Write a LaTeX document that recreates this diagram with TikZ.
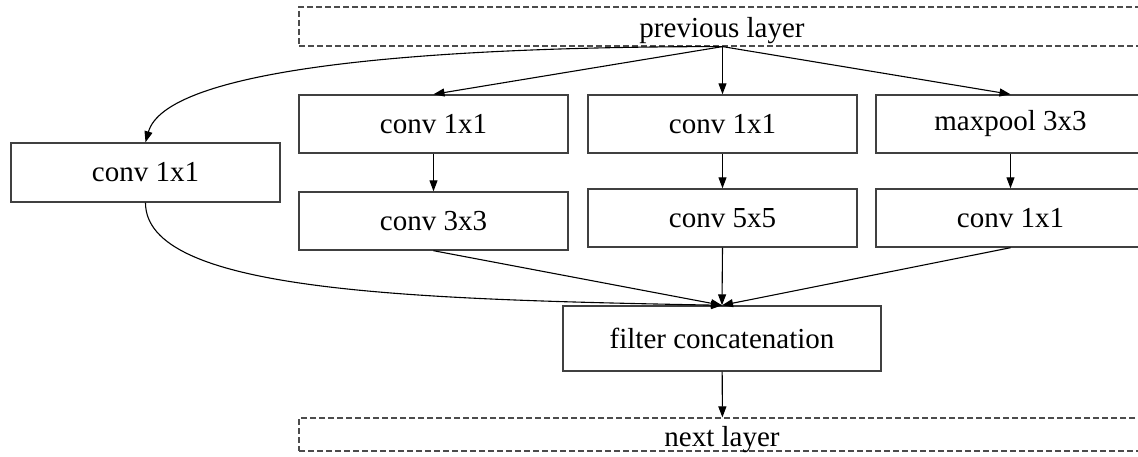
\documentclass[tikz,border=0pt]{standalone}
\usepackage{fontspec}
\setmainfont{Liberation Serif}
\usepackage{tikz}
\usetikzlibrary{arrows.meta}

\begin{document}
\begin{tikzpicture}[x=1pt, y=-1pt,
        font=\fontsize{29}{33}\selectfont,
        box/.style={draw=black!75, line width=1.4pt, inner sep=0pt,
                    minimum width=269pt, minimum height=58pt},
        layerbox/.style={draw=black!70, line width=1.2pt, inner sep=0pt,
                    dash pattern=on 6pt off 3pt},
        edge/.style={-{Triangle[length=11pt,width=8pt]}, line width=1.1pt}]
        \useasboundingbox (0,0) rectangle (1138,457);
        \clip (0,0) rectangle (1138,457);

        % Parameters
        \def\rowOne{124}        % centre of the first row
        \def\rowTwo{218}        % centre of the second row

        % input and output layers
        \node[layerbox, minimum width=847pt, minimum height=39pt] (prev) at (722.5,26.5) {};
        \node[anchor=base] (prevtext) at (722,38) {previous layer};
        \node[layerbox, minimum width=847pt, minimum height=33pt] (next) at (722.5,434.5) {};
        \node[anchor=base] (nexttext) at (722,446) {next layer};

        % branches
        \node[box, minimum height=59pt] (convA) at (145.5,172.5) {conv 1x1};

        \node[box] (convB) at (433.5,\rowOne) {conv 1x1};
        \node[box] (convC) at (722.5,\rowOne) {conv 1x1};
        \node[box] (pool)  at (1010.5,\rowOne) {maxpool 3x3};

        \node[box] (convBB) at (433.5,221) {conv 3x3};
        \node[box] (convCC) at (722.5,\rowTwo) {conv 5x5};
        \node[box] (poolC)  at (1010.5,\rowTwo) {conv 1x1};

        % concatenation
        \node[box, minimum width=318pt, minimum height=65pt] (concat) at (722,338.5) {filter concatenation};

        % Edges
        \draw[edge] (prev.south) .. controls +(-322,0) and +(20,-71) .. (convA.north);
        \draw[edge] (prev.south) -- (convB.north);
        \draw[edge] (prev.south) -- (convC.north);
        \draw[edge] (prev.south) -- (pool.north);

        \draw[edge] (convB) -- (convBB);
        \draw[edge] (convC) -- (convCC);
        \draw[edge] (pool) -- (poolC);

        \draw[edge] (convA.south) .. controls +(0,88) and +(-322,-6) .. (concat.north);
        \draw[edge] (convBB.south) -- (concat.north);
        \draw[edge] (convCC.south) -- (concat.north);
        \draw[edge] (poolC.south) -- (concat.north);

        \draw[edge] (concat) -- (next);
\end{tikzpicture}
\end{document}
